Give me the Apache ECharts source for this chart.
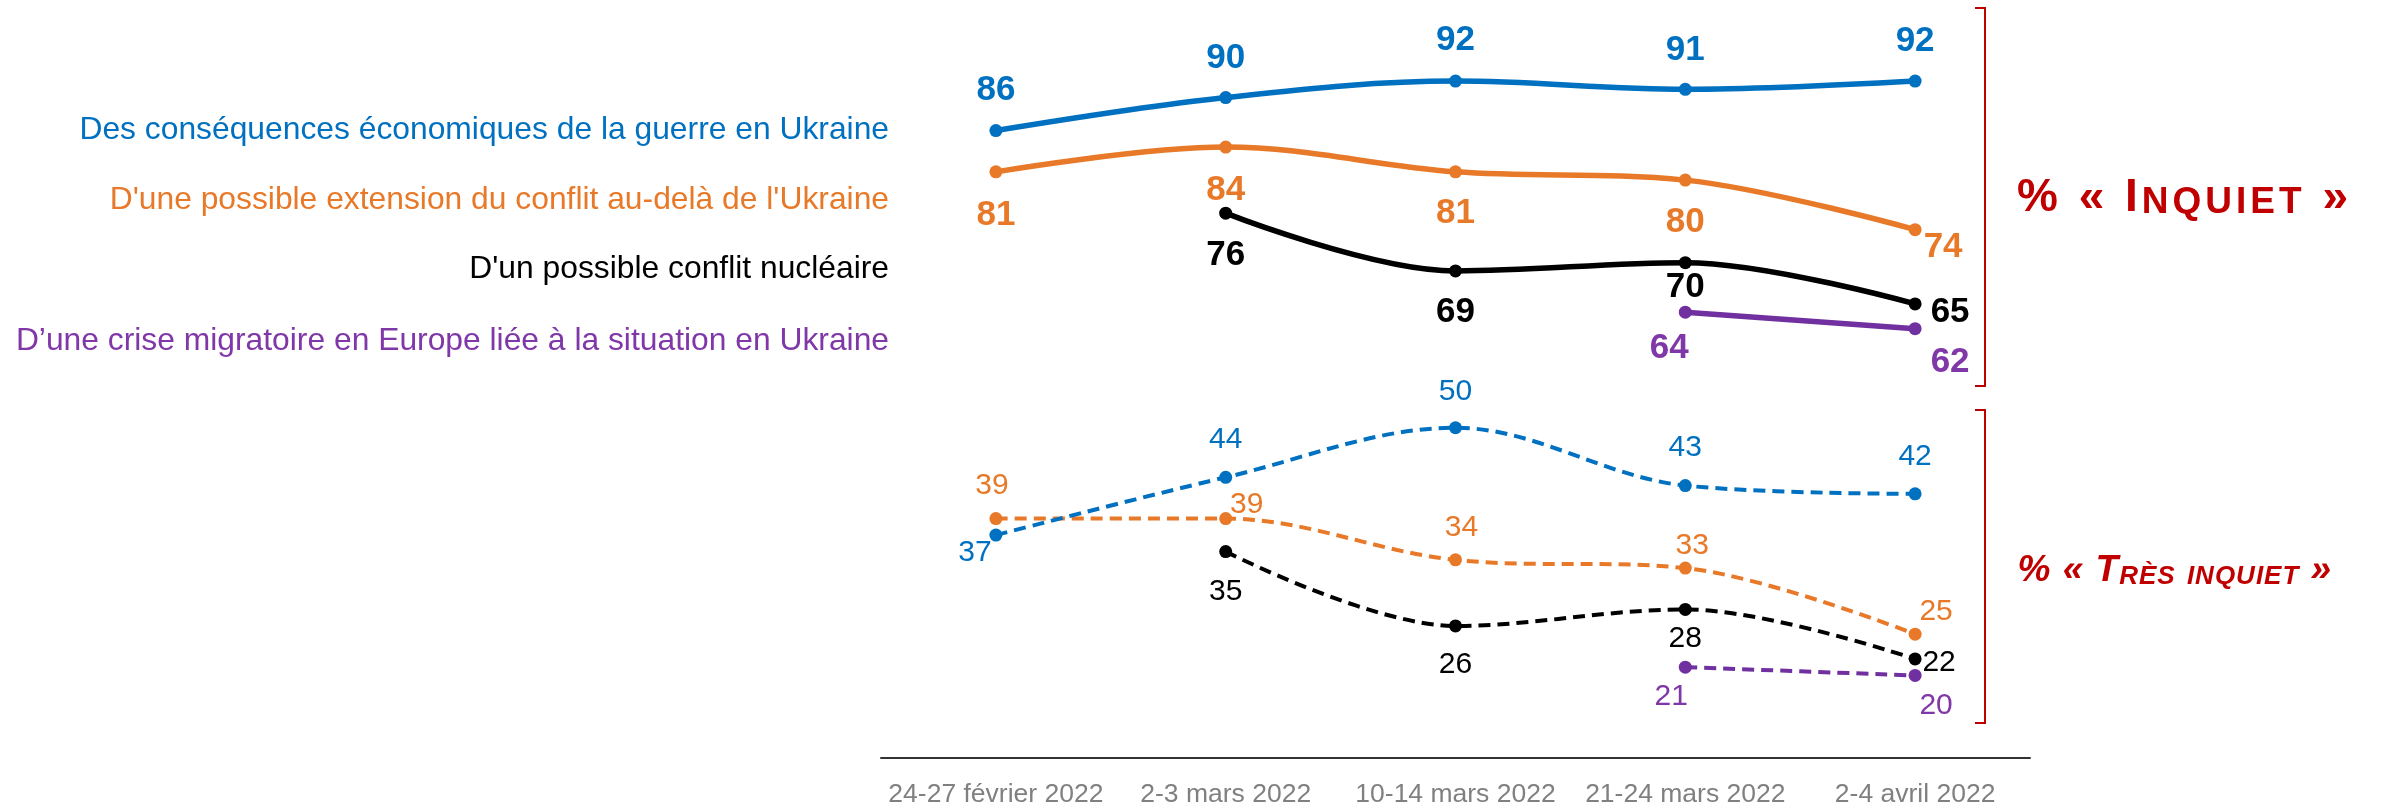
<!DOCTYPE html>
<html>
<head>
<meta charset="utf-8">
<script src="https://cdn.jsdelivr.net/npm/echarts@6/dist/echarts.min.js"></script>
<style>
  html, body { margin: 0; padding: 0; background: #ffffff; }
  #chart { width: 2384px; height: 812px; }
</style>
</head>
<body>
<div id="chart"></div>
<script>
// Survey waves (x axis)
const periods = ['24-27 février 2022', '2-3 mars 2022', '10-14 mars 2022', '21-24 mars 2022', '2-4 avril 2022'];

// Topics of concern
const themes = [
  'Des conséquences économiques de la guerre en Ukraine',
  "D'une possible extension du conflit au-delà de l'Ukraine",
  "D'un possible conflit nucléaire",
  'D’une crise migratoire en Europe liée à la situation en Ukraine'
];

// % « Inquiet »
const inquietEconomie   = [86, 90, 92, 91, 92];
const inquietExtension  = [81, 84, 81, 80, 74];
const inquietNucleaire  = [null, 76, 69, 70, 65];
const inquietMigration  = [null, null, null, 64, 62];

// % « Très inquiet »
const tresEconomie  = [37, 44, 50, 43, 42];
const tresExtension = [39, 39, 34, 33, 25];
const tresNucleaire = [null, 35, 26, 28, 22];
const tresMigration = [null, null, null, 21, 20];

// Label placement around each point (dx, dy in px)
const offInqEco  = [[0, -40], [0, -39], [0, -41], [0, -39], [0, -40]];
const offInqExt  = [[0, 43], [0, 43], [0, 41], [0, 42], [28, 18]];
const offInqNuc  = [null, [0, 42], [0, 41], [0, 25], [35, 8]];
const offInqMig  = [null, null, null, [-16, 36], [35, 34]];
const offTresEco = [[-21, 18], [0, -38], [0, -36], [0, -38], [0, -37]];
const offTresExt = [[-4, -33], [21, -14], [6, -32], [7, -22], [21, -22]];
const offTresNuc = [null, [0, 40], [0, 39], [0, 29], [24, 4]];
const offTresMig = [null, null, null, [-14, 30], [21, 30]];

const BLUE = '#0070C0';
const ORANGE = '#E87928';
const BLACK = '#000000';
const PURPLE = '#7030A0';
const PURPLE_TXT = '#8037A8';
const RED = '#C00000';
const FONT = '"Liberation Sans", Arial, sans-serif';

function toData(values, offsets) {
  return values.map((v, i) => v == null ? '-' : { value: v, label: { offset: offsets[i] } });
}

function solidSeries(name, values, offsets, color, textColor) {
  return {
    name, type: 'line', data: toData(values, offsets),
    smooth: 0.35, symbol: 'circle', symbolSize: 13,
    lineStyle: { color, width: 5.5 },
    itemStyle: { color },
    label: {
      show: true, position: 'inside', color: textColor || color,
      fontFamily: FONT, fontWeight: 'bold', fontSize: 35
    },
    z: 3
  };
}

function dashedSeries(name, values, offsets, color, textColor) {
  return {
    name, type: 'line', data: toData(values, offsets),
    smooth: 0.35, symbol: 'circle', symbolSize: 13,
    lineStyle: { color, width: 4, type: [12, 7] },
    itemStyle: { color },
    label: {
      show: true, position: 'inside', color: textColor || color,
      fontFamily: FONT, fontWeight: 'normal', fontSize: 30
    },
    z: 2
  };
}

// Small-caps style heading built from rich text segments:
// the first letter of the word at index capWord keeps full size
function smallCaps(text, capWord) {
  let out = '';
  const words = text.split(' ');
  words.forEach((w, wi) => {
    Array.from(w).forEach((c, ci) => {
      const isSmall = /[A-Za-zÀ-ÿ]/.test(c) && !(ci === 0 && wi === capWord);
      out += '{' + (isSmall ? 's' : 'b') + '|' + (isSmall ? c.toUpperCase() : c) + '}';
    });
    if (wi < words.length - 1) out += '{b| }';
  });
  return out;
}

const chart = echarts.init(document.getElementById('chart'), null, { renderer: 'canvas' });

const legendYs = [130, 200, 269, 341];
const legendColors = [BLUE, ORANGE, BLACK, PURPLE_TXT];

const graphics = themes.map((t, i) => ({
  type: 'text', x: 889, y: legendYs[i],
  style: {
    text: t, fill: legendColors[i], font: '31.8px ' + FONT,
    textAlign: 'right', textVerticalAlign: 'middle'
  }
}));

// Brackets grouping the two measures
graphics.push({
  type: 'polyline',
  shape: { points: [[1975, 8], [1985, 8], [1985, 386], [1975, 386]] },
  style: { stroke: RED, lineWidth: 2, fill: null }
});
graphics.push({
  type: 'polyline',
  shape: { points: [[1975, 410], [1985, 410], [1985, 723], [1975, 723]] },
  style: { stroke: RED, lineWidth: 2, fill: null }
});

graphics.push({
  type: 'text', x: 2015, y: 198,
  style: {
    text: smallCaps('% « Inquiet »', 2),
    textVerticalAlign: 'middle', textAlign: 'left',
    rich: {
      b: { fontFamily: FONT, fontWeight: 'bold', fontSize: 46, color: RED, fill: RED, padding: [0, 2], verticalAlign: 'bottom' },
      s: { fontFamily: FONT, fontWeight: 'bold', fontSize: 37, color: RED, fill: RED, padding: [0, 2], verticalAlign: 'bottom' }
    }
  }
});
graphics.push({
  type: 'text', x: 2017, y: 571,
  style: {
    text: smallCaps('% « Très inquiet »', 2),
    textVerticalAlign: 'middle', textAlign: 'left',
    rich: {
      b: { fontFamily: FONT, fontWeight: 'bold', fontStyle: 'italic', fontSize: 37, color: RED, fill: RED, padding: [0, 0.5], verticalAlign: 'bottom' },
      s: { fontFamily: FONT, fontWeight: 'bold', fontStyle: 'italic', fontSize: 26, color: RED, fill: RED, padding: [0, 0.5], verticalAlign: 'bottom' }
    }
  }
});

chart.setOption({
  animation: false,
  backgroundColor: '#ffffff',
  grid: { left: 881, right: 354, top: 15, bottom: 54 },
  xAxis: {
    type: 'category', data: periods, boundaryGap: true,
    axisLine: { show: true, lineStyle: { color: '#333333', width: 2 } },
    axisTick: { show: false },
    axisLabel: { interval: 0, color: '#808080', fontFamily: FONT, fontSize: 26.5, margin: 23 }
  },
  yAxis: {
    type: 'value', min: 10, max: 100, show: false,
    splitLine: { show: false }
  },
  series: [
    dashedSeries('tresMigration', tresMigration, offTresMig, PURPLE, PURPLE_TXT),
    dashedSeries('tresNucleaire', tresNucleaire, offTresNuc, BLACK),
    dashedSeries('tresExtension', tresExtension, offTresExt, ORANGE),
    dashedSeries('tresEconomie', tresEconomie, offTresEco, BLUE),
    solidSeries('inquietMigration', inquietMigration, offInqMig, PURPLE, PURPLE_TXT),
    solidSeries('inquietNucleaire', inquietNucleaire, offInqNuc, BLACK),
    solidSeries('inquietExtension', inquietExtension, offInqExt, ORANGE),
    solidSeries('inquietEconomie', inquietEconomie, offInqEco, BLUE)
  ],
  graphic: graphics
});
</script>
</body>
</html>
